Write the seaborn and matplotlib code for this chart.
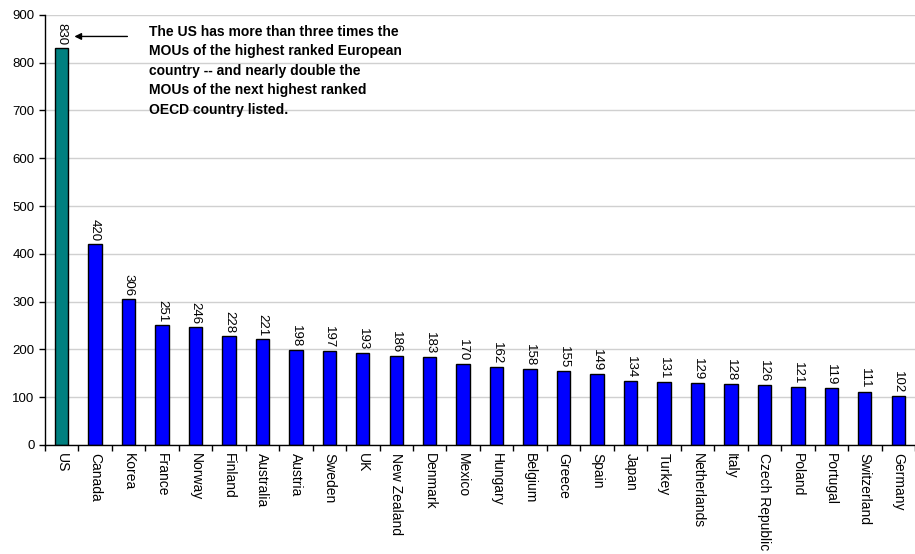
import matplotlib
matplotlib.use('Agg')
import matplotlib.pyplot as plt
import seaborn as sns
import pandas as pd

# ==============================
# Data
# ==============================
countries = ["US", "Canada", "Korea", "France", "Norway", "Finland", "Australia",
             "Austria", "Sweden", "UK", "New Zealand", "Denmark", "Mexico", "Hungary",
             "Belgium", "Greece", "Spain", "Japan", "Turkey", "Netherlands", "Italy",
             "Czech Republic", "Poland", "Portugal", "Switzerland", "Germany"]
mous = [830, 420, 306, 251, 246, 228, 221, 198, 197, 193, 186, 183, 170, 162,
        158, 155, 149, 134, 131, 129, 128, 126, 121, 119, 111, 102]
highlight = ["US"]

df = pd.DataFrame({"country": countries, "mou": mous})
df["group"] = ["us" if c in highlight else "other" for c in countries]

# ==============================
# Plot
# ==============================
sns.set_style("white", {"xtick.bottom": True, "ytick.left": True,
                        "text.color": "black", "xtick.color": "black",
                        "ytick.color": "black", "axes.edgecolor": "black"})
plt.rcParams['font.family'] = ['Liberation Sans', 'DejaVu Sans']

fig = plt.figure(figsize=(9.15, 5.54), dpi=100)
ax = fig.add_axes([0.049, 0.197, 0.951, 0.776])

sns.barplot(data=df, x="country", y="mou", hue="group",
            palette={"us": "#008080", "other": "#0000FF"}, saturation=1,
            dodge=False, width=0.4, edgecolor="black", linewidth=1,
            legend=False, ax=ax)

# value labels
for i, v in enumerate(mous):
    ax.text(i, v + 6, str(v), rotation=270, ha="center", va="bottom", fontsize=9.5)

ax.set_ylim(0, 900)
ax.set_xlim(-0.5, len(countries) - 0.5)
ax.set_yticks(range(0, 901, 100))
ax.yaxis.grid(True, color="#d0d0d0", linewidth=1)
ax.set_axisbelow(True)

# ticks between categories on x
ax.set_xticks(range(len(countries)))
ax.set_xticklabels(countries, rotation=270, fontsize=10)
ax.set_xticks([i + 0.5 for i in range(-1, len(countries))], minor=True)
ax.tick_params(axis="x", which="major", length=0, pad=6)
ax.tick_params(axis="x", which="minor", bottom=True, length=4, width=1,
               color="black", direction="out")
ax.tick_params(axis="y", left=True, length=4, width=1, color="black",
               direction="out", labelsize=9.5)

ax.set_xlabel("")
ax.set_ylabel("")
for s in ["top", "right"]:
    ax.spines[s].set_visible(False)
for s in ["left", "bottom"]:
    ax.spines[s].set_color("black")
    ax.spines[s].set_linewidth(1)

# callout
ax.annotate("", xy=(0.3, 855), xytext=(2.05, 855),
            arrowprops=dict(arrowstyle="-|>", color="black", lw=1, mutation_scale=10))
ax.text(2.6, 880,
        "The US has more than three times the\n"
        "MOUs of the highest ranked European\n"
        "country -- and nearly double the\n"
        "MOUs of the next highest ranked\n"
        "OECD country listed.",
        fontsize=10, fontweight="bold", va="top", ha="left", linespacing=1.5)

plt.savefig("out.png", dpi=100)
plt.close()
